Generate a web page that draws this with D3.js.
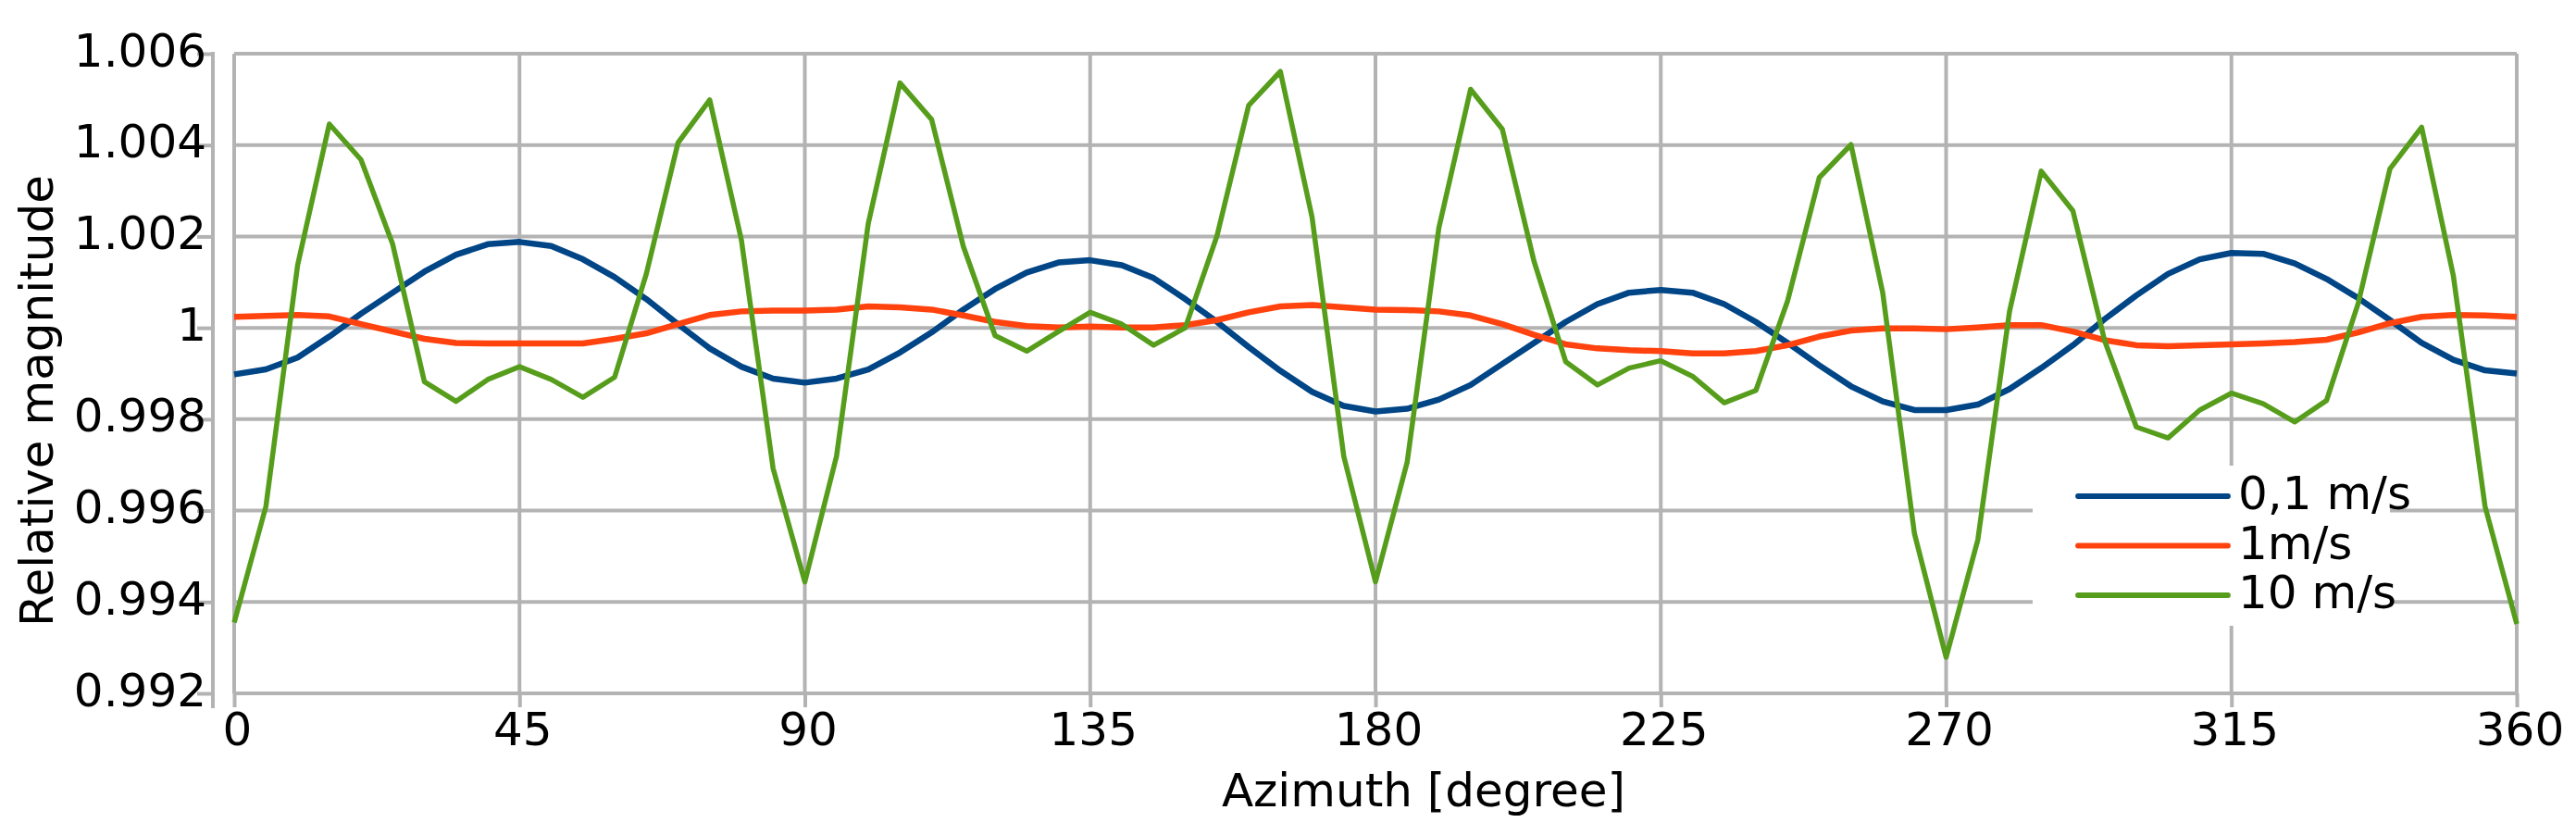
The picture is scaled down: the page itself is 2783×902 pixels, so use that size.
<!DOCTYPE html>
<html>
<head>
<meta charset="utf-8">
<script src="https://cdn.jsdelivr.net/npm/d3@7"></script>
<style>
  body { margin: 0; background: #ffffff; }
  text { font-family: "DejaVu Sans", sans-serif; fill: #000000; }
</style>
</head>
<body>
<script>
'use strict';

// azimuth in degrees, one sample every 5 degrees
var azimuth = [0, 5, 10, 15, 20, 25, 30, 35, 40, 45, 50, 55, 60, 65, 70, 75, 80, 85,
               90, 95, 100, 105, 110, 115, 120, 125, 130, 135, 140, 145, 150, 155, 160, 165, 170, 175,
               180, 185, 190, 195, 200, 205, 210, 215, 220, 225, 230, 235, 240, 245, 250, 255, 260, 265,
               270, 275, 280, 285, 290, 295, 300, 305, 310, 315, 320, 325, 330, 335, 340, 345, 350, 355, 360];

var speed01 = [0.99898, 0.99909, 0.99935, 0.99981, 1.00031, 1.00077, 1.00123, 1.00160, 1.00183, 1.00188,
               1.00179, 1.00150, 1.00111, 1.00063, 1.00008, 0.99955, 0.99915, 0.99889, 0.99880, 0.99889,
               0.99909, 0.99946, 0.99990, 1.00040, 1.00085, 1.00121, 1.00143, 1.00148, 1.00137, 1.00109,
               1.00063, 1.00013, 0.99958, 0.99906, 0.99860, 0.99829, 0.99817, 0.99823, 0.99843, 0.99875,
               0.99921, 0.99967, 1.00013, 1.00052, 1.00077, 1.00083, 1.00077, 1.00052, 1.00013, 0.99967,
               0.99918, 0.99872, 0.99839, 0.99820, 0.99820, 0.99832, 0.99866, 0.99912, 0.99962, 1.00019,
               1.00071, 1.00118, 1.00150, 1.00164, 1.00162, 1.00141, 1.00107, 1.00065, 1.00017, 0.99967,
               0.99930, 0.99907, 0.99900];

var speed1 = [1.00024, 1.00026, 1.00028, 1.00025, 1.00008, 0.99992, 0.99976, 0.99967, 0.99966, 0.99966,
              0.99966, 0.99966, 0.99976, 0.99988, 1.00008, 1.00028, 1.00036, 1.00038, 1.00038, 1.00040,
              1.00047, 1.00045, 1.00040, 1.00027, 1.00013, 1.00004, 1.00001, 1.00003, 1.00001, 1.00001,
              1.00006, 1.00017, 1.00034, 1.00047, 1.00050, 1.00045, 1.00040, 1.00039, 1.00036, 1.00027,
              1.00008, 0.99985, 0.99964, 0.99955, 0.99951, 0.99949, 0.99944, 0.99944, 0.99949, 0.99962,
              0.99981, 0.99994, 0.99999, 0.99999, 0.99997, 1.00001, 1.00006, 1.00006, 0.99992, 0.99973,
              0.99962, 0.99960, 0.99962, 0.99964, 0.99966, 0.99969, 0.99974, 0.99990, 1.00010, 1.00024,
              1.00028, 1.00027, 1.00024];

var speed10 = [0.99355, 0.99609, 1.00137, 1.00446, 1.00368, 1.00183, 0.99882, 0.99839, 0.99887, 0.99915,
               0.99887, 0.99848, 0.99892, 1.00118, 1.00405, 1.00499, 1.00192, 0.99692, 0.99444, 0.99719,
               1.00228, 1.00536, 1.00456, 1.00178, 0.99983, 0.99949, 0.99992, 1.00034, 1.00008, 0.99962,
               1.00000, 1.00201, 1.00487, 1.00561, 1.00242, 0.99719, 0.99444, 0.99706, 1.00219, 1.00522,
               1.00435, 1.00146, 0.99926, 0.99875, 0.99912, 0.99928, 0.99894, 0.99836, 0.99863, 1.00059,
               1.00329, 1.00401, 1.00077, 0.99550, 0.99279, 0.99536, 1.00036, 1.00343, 1.00256, 0.99972,
               0.99783, 0.99759, 0.99820, 0.99857, 0.99834, 0.99794, 0.99841, 1.00054, 1.00348, 1.00439,
               1.00114, 0.99609, 0.99352];

var seriesNames = ["0,1 m/s", "1m/s", "10 m/s"];
var seriesColors = ["#004586", "#ff420e", "#579d1c"];

var xTicks = [0, 45, 90, 135, 180, 225, 270, 315, 360];
var yTicks = [0.992, 0.994, 0.996, 0.998, 1, 1.002, 1.004, 1.006];
var yTickLabels = ["0.992", "0.994", "0.996", "0.998", "1", "1.002", "1.004", "1.006"];

var chart = {};
chart.width = 2783;
chart.height = 902;
chart.left = 253;
chart.right = 2719;
chart.top = 58;
chart.bottom = 749;
chart.fontSize = 50;
chart.grid = "#b3b3b3";
chart.gridWidth = 4;
chart.lineWidths = [6.5, 6.5, 5.5];

chart.x = d3.scaleLinear().domain([0, 360]).range([chart.left, chart.right]);
chart.y = d3.scaleLinear().domain([0.992, 1.006]).range([chart.bottom, chart.top]);

chart.appendSvg = function(){
    return d3.select("body")
        .append("svg")
        .attr("width", chart.width)
        .attr("height", chart.height);
}

chart.appendGrid = function(svg){
    var g = svg.append("g");
    g.selectAll(".hgrid")
        .data(yTicks)
        .enter()
            .append("line")
            .attr("x1", chart.left)
            .attr("x2", chart.right)
            .attr("y1", function(d){ return chart.y(d); })
            .attr("y2", function(d){ return chart.y(d); })
            .attr("stroke", chart.grid)
            .attr("stroke-width", chart.gridWidth);
    g.selectAll(".vgrid")
        .data(xTicks)
        .enter()
            .append("line")
            .attr("x1", function(d){ return chart.x(d); })
            .attr("x2", function(d){ return chart.x(d); })
            .attr("y1", chart.top)
            .attr("y2", chart.bottom)
            .attr("stroke", chart.grid)
            .attr("stroke-width", chart.gridWidth);
}

chart.appendAxes = function(svg){
    var yAxis = d3.axisLeft(chart.y)
        .tickValues(yTicks)
        .tickFormat(function(d, i){ return yTickLabels[i]; })
        .tickSize(17)
        .tickSizeOuter(0)
        .tickPadding(-10);

    var yg = svg.append("g")
        .attr("transform", "translate(230,0)")
        .call(yAxis);
    yg.select(".domain").remove();
    yg.selectAll(".tick line").attr("stroke", chart.grid).attr("stroke-width", chart.gridWidth);
    yg.selectAll(".tick text")
        .attr("dy", "0.26em")
        .style("font-size", chart.fontSize + "px")
        .style("font-family", "'DejaVu Sans', sans-serif");
    yg.append("line")
        .attr("x1", 0).attr("x2", 0)
        .attr("y1", chart.top - 2)
        .attr("y2", chart.bottom + 16)
        .attr("stroke", chart.grid)
        .attr("stroke-width", chart.gridWidth);

    var xAxis = d3.axisBottom(chart.x)
        .tickValues(xTicks)
        .tickSize(15)
        .tickSizeOuter(0);

    var xg = svg.append("g")
        .attr("transform", "translate(0," + chart.bottom + ")")
        .call(xAxis);
    xg.select(".domain").remove();
    xg.selectAll(".tick line").attr("stroke", chart.grid).attr("stroke-width", chart.gridWidth);
    xg.selectAll(".tick text")
        .attr("dy", null)
        .attr("y", 56)
        .attr("x", 3)
        .style("font-size", chart.fontSize + "px")
        .style("font-family", "'DejaVu Sans', sans-serif");

    svg.append("text")
        .attr("x", 1538)
        .attr("y", 871)
        .attr("text-anchor", "middle")
        .style("font-size", chart.fontSize + "px")
        .text("Azimuth [degree]");

    svg.append("text")
        .attr("transform", "translate(57,433) rotate(-90)")
        .attr("text-anchor", "middle")
        .style("font-size", chart.fontSize + "px")
        .text("Relative magnitude");
}

chart.appendLines = function(svg){
    var series = [speed01, speed1, speed10];
    var line = d3.line()
        .x(function(d, i){ return chart.x(azimuth[i]); })
        .y(function(d){ return chart.y(d); });

    svg.selectAll(".series")
        .data(series)
        .enter()
            .append("path")
            .attr("d", line)
            .attr("fill", "none")
            .attr("stroke", function(d, i){ return seriesColors[i]; })
            .attr("stroke-width", function(d, i){ return chart.lineWidths[i]; })
            .attr("stroke-linejoin", "round");
}

chart.appendLegend = function(svg){
    var g = svg.append("g");
    g.append("rect")
        .attr("x", 2196)
        .attr("y", 503)
        .attr("width", 386)
        .attr("height", 173)
        .attr("fill", "#ffffff");

    var items = g.selectAll(".item")
        .data(seriesNames)
        .enter()
            .append("g")
            .attr("transform", function(d, i){ return "translate(0," + (536 + i * 53.5) + ")"; });

    items.append("line")
        .attr("x1", 2245)
        .attr("x2", 2407)
        .attr("stroke", function(d, i){ return seriesColors[i]; })
        .attr("stroke-width", 5.8)
        .attr("stroke-linecap", "round");

    items.append("text")
        .attr("x", 2418)
        .attr("y", 14)
        .style("font-size", chart.fontSize + "px")
        .text(function(d){ return d; });
}

chart.run = function(){
    var svg = chart.appendSvg();
    chart.appendGrid(svg);
    chart.appendAxes(svg);
    chart.appendLines(svg);
    chart.appendLegend(svg);
}

window.onload = chart.run;
</script>
</body>
</html>
